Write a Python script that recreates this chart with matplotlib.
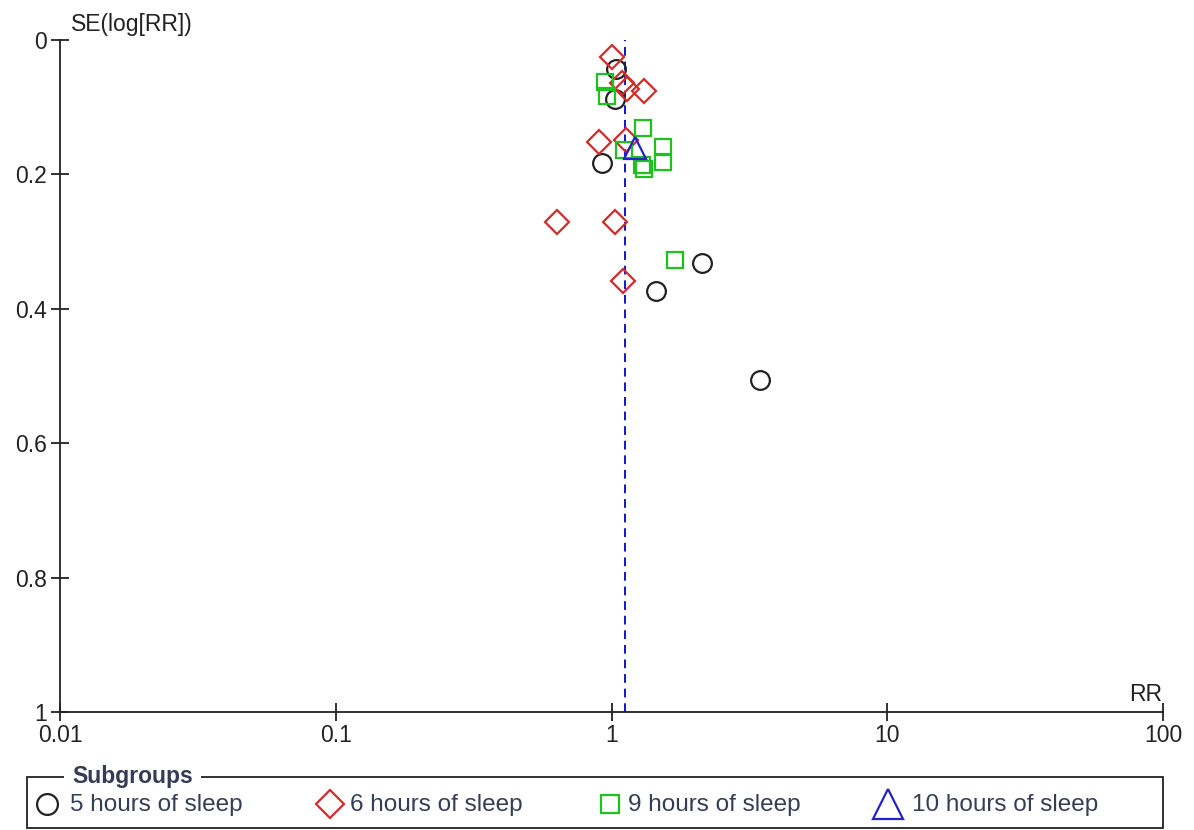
import matplotlib.pyplot as plt
from matplotlib.lines import Line2D
from matplotlib.patches import Rectangle
from matplotlib.ticker import NullLocator

plt.rcParams['font.family'] = ['Liberation Sans', 'DejaVu Sans']

# subgroups of the funnel plot
GROUPS = ['5 hours of sleep', '6 hours of sleep', '9 hours of sleep', '10 hours of sleep']

rr_5h = [1.041, 1.032, 0.922, 2.137, 1.456, 3.446]
se_5h = [0.043, 0.088, 0.183, 0.332, 0.373, 0.506]

rr_6h = [1.000, 1.090, 1.136, 1.309, 0.899, 1.131, 0.635, 1.030, 1.105]
se_6h = [0.025, 0.064, 0.073, 0.076, 0.152, 0.149, 0.271, 0.271, 0.359]

rr_9h = [0.946, 0.962, 1.302, 1.111, 1.538, 1.538, 1.285, 1.315, 1.700]
se_9h = [0.063, 0.084, 0.131, 0.164, 0.159, 0.181, 0.186, 0.192, 0.327]

rr_10h = [1.215]
se_10h = [0.161]

POOLED_RR = 1.12

X_TICKS = [0.01, 0.1, 1, 10, 100]
X_TICK_LABELS = ['0.01', '0.1', '1', '10', '100']
Y_TICKS = [0, 0.2, 0.4, 0.6, 0.8, 1]
Y_TICK_LABELS = ['0', '0.2', '0.4', '0.6', '0.8', '1']

series = [(rr_5h, se_5h), (rr_6h, se_6h), (rr_9h, se_9h), (rr_10h, se_10h)]
styles = [
    dict(marker='o', ms=13.5, mec='#222222'),
    dict(marker='D', ms=12.5, mec='#d42b2b'),
    dict(marker='s', ms=12, mec='#1ec21e'),
    dict(marker='^', ms=16, mec='#2323c8'),
]

W, H = 1194, 830
fig = plt.figure(figsize=(W / 100, H / 100), dpi=100)
ax = fig.add_axes([60 / W, 118 / H, 1103 / W, 672 / H])

ax.axvline(POOLED_RR, color='#1414c8', lw=1.4, ls=(0, (4.5, 3)), zorder=1)

for (rr, se), st in zip(series, styles):
    ax.plot(rr, se, ls='none', mfc='none', mew=1.6, zorder=3, **st)

ax.set_xscale('log')
ax.set_xlim(0.01, 100)
ax.set_ylim(1, 0)
ax.set_xticks(X_TICKS)
ax.set_xticklabels(X_TICK_LABELS)
ax.xaxis.set_minor_locator(NullLocator())
ax.set_yticks(Y_TICKS)
ax.set_yticklabels(Y_TICK_LABELS)

for side in ['top', 'right']:
    ax.spines[side].set_visible(False)
for side in ['left', 'bottom']:
    ax.spines[side].set_linewidth(1.3)
    ax.spines[side].set_color('#222222')

ax.tick_params(direction='inout', length=13, width=1.3, color='#222222',
               labelsize=16.5, labelcolor='#222222')
ax.tick_params(axis='x', pad=2)
ax.tick_params(axis='y', pad=3)

fig.text(71 / W, 1 - 25 / H, 'SE(log[RR])', ha='left', va='center',
         fontsize=16.5, color='#222222')
fig.text(1162 / W, 1 - 694 / H, 'RR', ha='right', va='center',
         fontsize=16.5, color='#222222')

# legend box with the title sitting on the top border
fig.add_artist(Rectangle((27 / W, 1 - 828 / H), 1136 / W, 51 / H,
                         transform=fig.transFigure, fill=False,
                         ec='#222222', lw=1.3))
fig.text(72 / W, 1 - 776 / H, 'Subgroups', ha='left', va='center',
         fontsize=16.5, fontweight='bold', color='#343c55',
         bbox=dict(fc='white', ec='none', pad=6))

marker_x = [47, 330, 610, 888]
label_x = [70, 350, 628, 912]
leg_sizes = [15, 14.5, 13.5, 22]
for name, st, mx, lx, sz in zip(GROUPS, styles, marker_x, label_x, leg_sizes):
    fig.add_artist(Line2D([mx / W], [1 - 804 / H], transform=fig.transFigure,
                          marker=st['marker'], ms=sz, mec=st['mec'],
                          mfc='none', mew=1.6, ls='none'))
    fig.text(lx / W, 1 - 805 / H, name, ha='left', va='center',
             fontsize=17.5, color='#363e56')

fig.savefig('out.png', dpi=100)
